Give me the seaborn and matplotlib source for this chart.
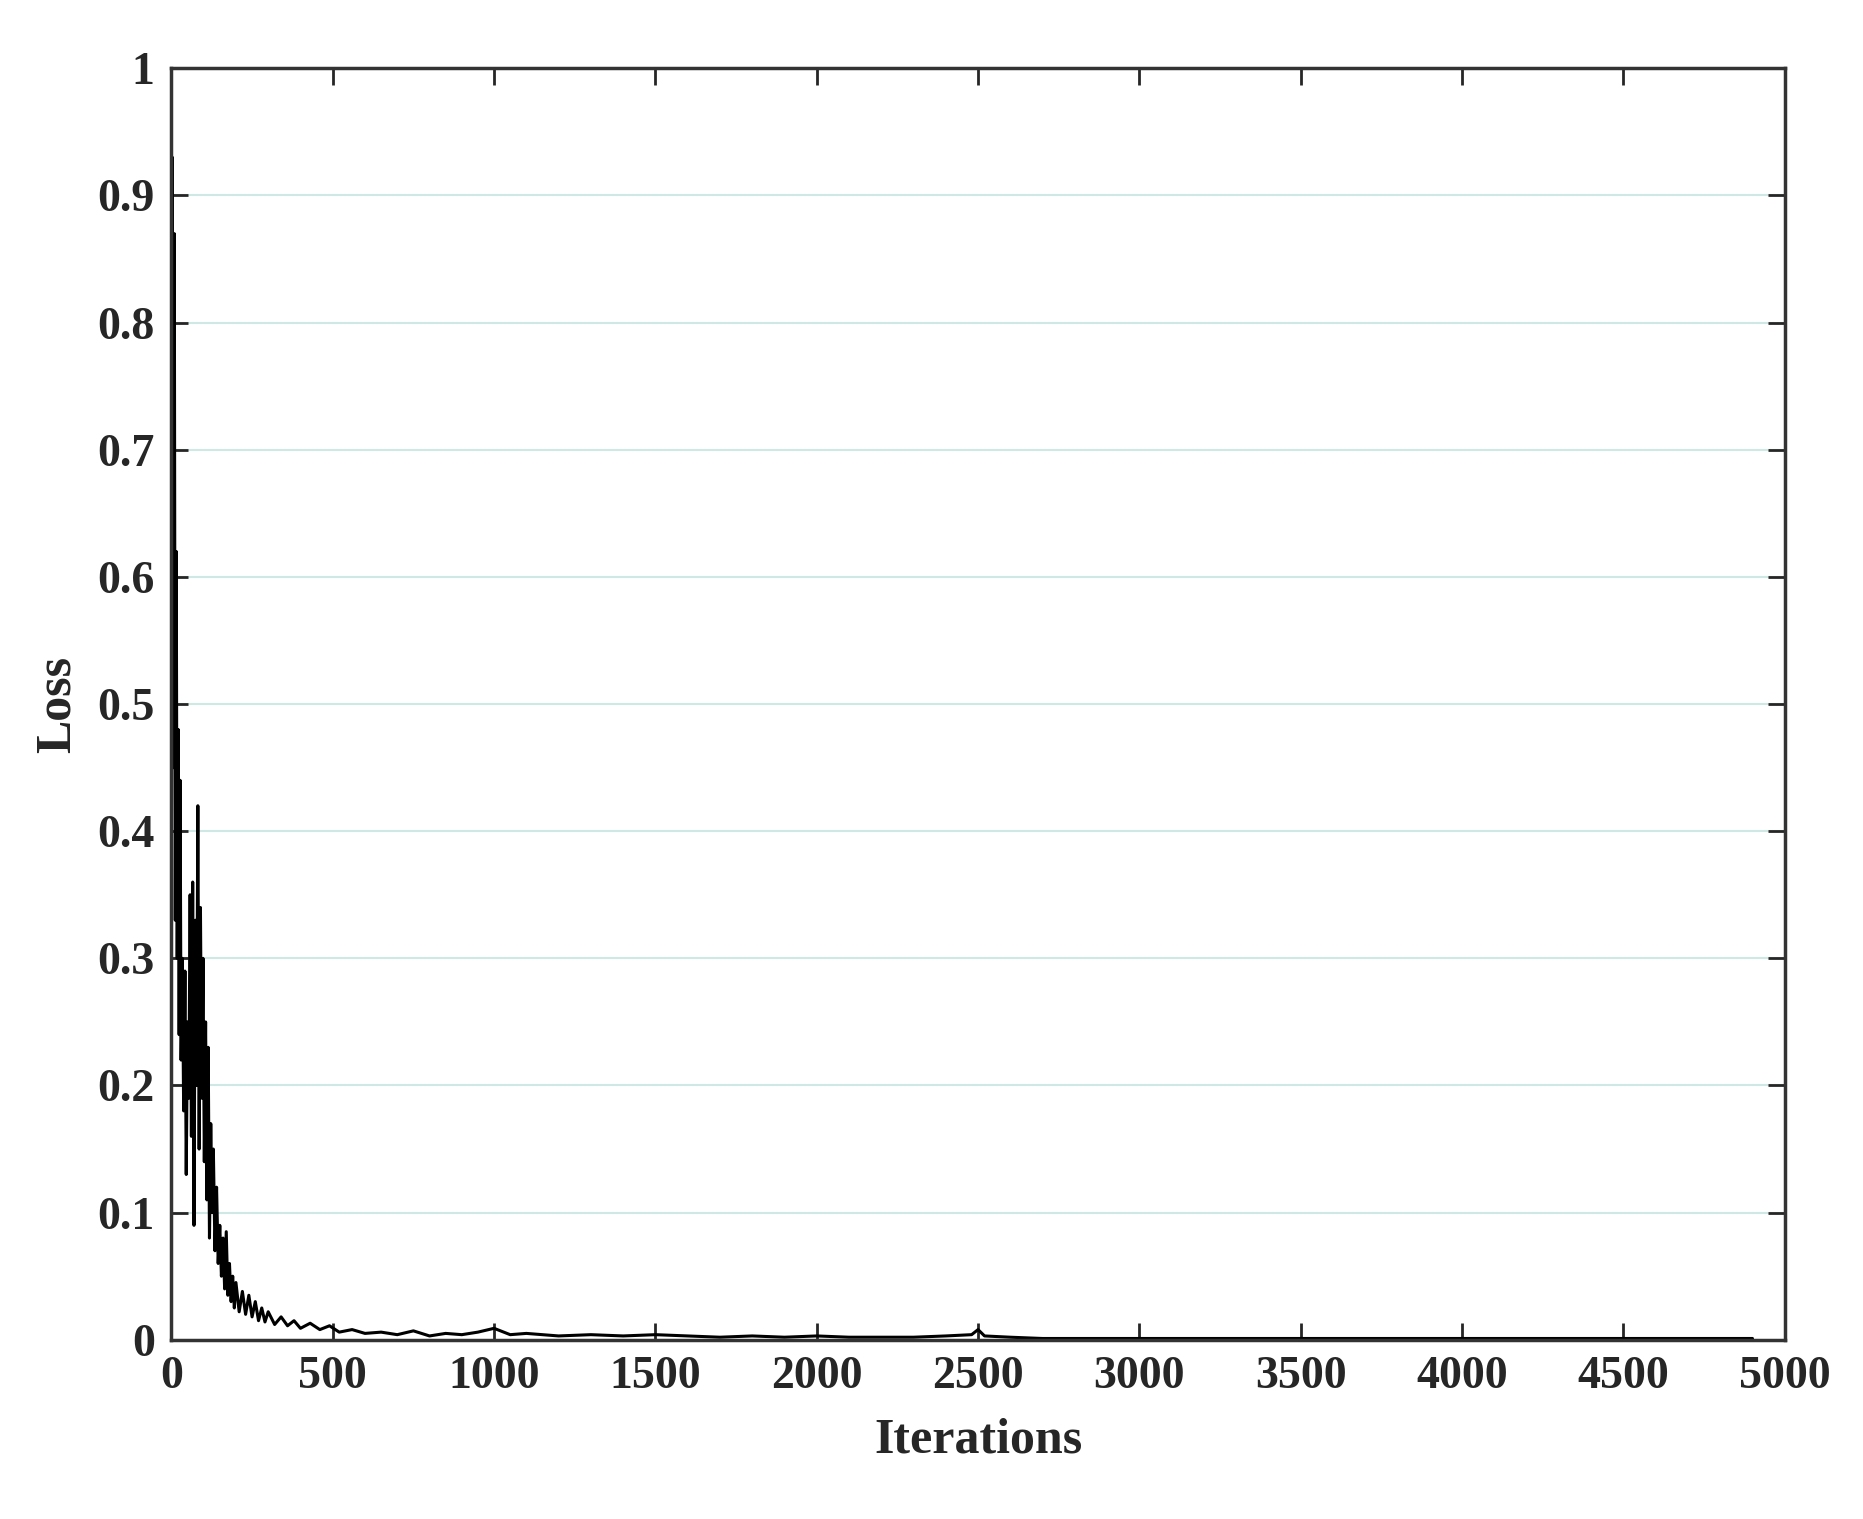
import matplotlib
matplotlib.use("Agg")
import matplotlib.pyplot as plt
import seaborn as sns
import pandas as pd

# iteration / loss values
iterations = [0, 3, 6, 9, 12, 15, 18, 21, 24, 27, 30, 34, 38, 42, 46, 50, 54, 58,
              62, 66, 70, 74, 78, 82, 86, 90, 94, 98, 102, 106, 110, 114, 118, 122,
              126, 130, 135, 140, 145, 150, 155, 160, 165, 170, 175, 180, 185, 190,
              195, 200, 210, 220, 230, 240, 250, 260, 270, 280, 290, 300, 320, 340,
              360, 380, 400, 430, 460, 490, 520, 560, 600, 650, 700, 750, 800, 850,
              900, 950, 1000, 1050, 1100, 1200, 1300, 1400, 1500, 1600, 1700, 1800,
              1900, 2000, 2100, 2200, 2300, 2400, 2480, 2500, 2520, 2600, 2700, 2800,
              3000, 3200, 3400, 3600, 3800, 4000, 4200, 4400, 4600, 4800, 4900]
loss = [0.35, 0.93, 0.45, 0.87, 0.33, 0.62, 0.30, 0.48, 0.24, 0.44, 0.22, 0.30, 0.18,
        0.29, 0.13, 0.25, 0.19, 0.35, 0.16, 0.36, 0.09, 0.33, 0.20, 0.42, 0.15, 0.34,
        0.19, 0.30, 0.14, 0.25, 0.11, 0.23, 0.08, 0.17, 0.10, 0.15, 0.07, 0.12, 0.06,
        0.09, 0.05, 0.08, 0.04, 0.085, 0.035, 0.06, 0.03, 0.05, 0.025, 0.045, 0.022,
        0.038, 0.02, 0.035, 0.018, 0.03, 0.015, 0.025, 0.014, 0.022, 0.012, 0.018,
        0.011, 0.015, 0.009, 0.013, 0.008, 0.011, 0.006, 0.008, 0.005, 0.006, 0.004,
        0.007, 0.003, 0.005, 0.004, 0.006, 0.009, 0.004, 0.005, 0.003, 0.004, 0.003,
        0.004, 0.003, 0.002, 0.003, 0.002, 0.003, 0.002, 0.002, 0.002, 0.003, 0.004,
        0.008, 0.003, 0.002, 0.001, 0.001, 0.001, 0.001, 0.001, 0.001, 0.001, 0.001,
        0.001, 0.001, 0.001, 0.001, 0.001]

df = pd.DataFrame({"Iterations": iterations, "Loss": loss})

sns.set_theme(style="white")
plt.rcParams["font.family"] = ["Liberation Serif", "DejaVu Serif"]
plt.rcParams["font.weight"] = "bold"

fig, ax = plt.subplots(figsize=(18.63, 15.19), dpi=100)
fig.subplots_adjust(left=0.092, right=0.958, top=0.955, bottom=0.118)

ax.set_yticks([i / 10 for i in range(11)])
for y in [i / 10 for i in range(1, 10)]:
    ax.axhline(y, color="#cfe8e4", lw=1.5, zorder=0)

sns.lineplot(data=df, x="Iterations", y="Loss", color="black", lw=2.2, ax=ax)

ax.set_xlim(0, 5000)
ax.set_ylim(0, 1)
ax.set_xticks(range(0, 5001, 500))
ax.set_yticklabels(["0", "0.1", "0.2", "0.3", "0.4", "0.5", "0.6", "0.7", "0.8", "0.9", "1"])
ax.tick_params(direction="in", length=12, width=2, labelsize=33, top=True, right=True,
               bottom=True, left=True, pad=12)
for lab in ax.get_xticklabels() + ax.get_yticklabels():
    lab.set_fontweight("bold")
for s in ax.spines.values():
    s.set_color("#333333")
    s.set_linewidth(2.5)
ax.set_xlabel("Iterations", fontsize=36, fontweight="bold", labelpad=14)
ax.set_ylabel("Loss", fontsize=36, fontweight="bold", labelpad=12)

fig.savefig("out.png", dpi=100)
